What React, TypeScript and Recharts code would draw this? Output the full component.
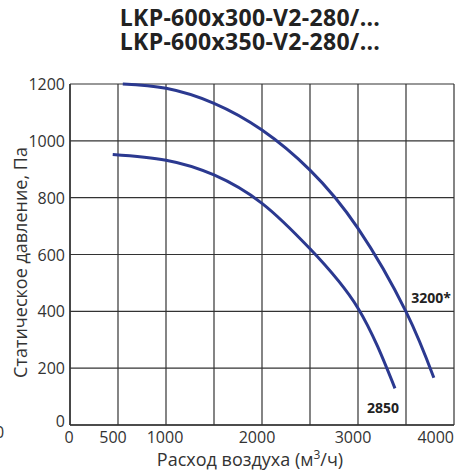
import React from "react";
import {
  LineChart,
  Line,
  XAxis,
  YAxis,
  CartesianGrid,
  ReferenceDot,
} from "recharts";

const titleLines = ["LKP-600x300-V2-280/...", "LKP-600x350-V2-280/..."];

// grid every 500, labels only on some
const xTicks = [0, 500, 1000, 1500, 2000, 2500, 3000, 3500, 4000];
const xLabeled = [0, 500, 1000, 2000, 3000, 4000];
const yTicks = [0, 200, 400, 600, 800, 1000, 1200];

const flow3200 = [550, 1000, 1500, 2000, 2500, 3000, 3500, 3790];
const press3200 = [1200, 1185, 1132, 1038, 897, 692, 399, 166];

const flow2850 = [445, 1000, 1500, 2000, 2500, 3000, 3385];
const press2850 = [952, 932, 880, 780, 620, 411, 129];

const curve3200 = flow3200.map((q, i) => ({ q, p: press3200[i] }));
const curve2850 = flow2850.map((q, i) => ({ q, p: press2850[i] }));

const ink = "#333";
const blue = "#2b3990";
const font = "'Open Sans', sans-serif";

const XTick = (props: any) => {
  const { x, y, payload } = props;
  const v = payload.value;
  if (!xLabeled.includes(v)) return null;
  const last = v === 4000;
  const shift = v === 0 || v === 1000 ? -1 : -5;
  return (
    <text
      x={last ? x : x + shift}
      y={y + 16}
      textAnchor={last ? "end" : "middle"}
      fill={ink}
      fontSize={16}
      fontFamily={font}
    >
      {v}
    </text>
  );
};

const YTick = (props: any) => {
  const { x, y, payload } = props;
  const v = payload.value;
  return (
    <text
      x={x - 3}
      y={v === 0 ? y - 4 : y}
      textAnchor="end"
      dominantBaseline="central"
      fill={ink}
      fontSize={16}
      fontFamily={font}
    >
      {v}
    </text>
  );
};

const YLabel = (props: any) => {
  const { viewBox } = props;
  const cx = 20;
  const cy = viewBox.y + viewBox.height / 2 + 8;
  return (
    <text
      x={cx}
      y={cy}
      transform={`rotate(-90 ${cx} ${cy})`}
      textAnchor="middle"
      dominantBaseline="central"
      fill={ink}
      fontSize={18}
      fontFamily={font}
    >
      Статическое давление, Па
    </text>
  );
};

const XLabel = (props: any) => {
  const { viewBox } = props;
  const cx = viewBox.x + viewBox.width / 2 - 12;
  return (
    <text x={cx} y={466} textAnchor="middle" fill={ink} fontSize={18} fontFamily={font}>
      Расход воздуха (м<tspan dy={-7} fontSize={12}>3</tspan>
      <tspan dy={7}>/ч)</tspan>
    </text>
  );
};

const tagLabel = (text: string) => (props: any) => {
  const { viewBox } = props;
  return (
    <text
      x={viewBox.x}
      y={viewBox.y}
      textAnchor="middle"
      dominantBaseline="central"
      fill="#222"
      fontSize={14}
      fontWeight="bold"
      fontFamily={font}
    >
      {text}
    </text>
  );
};

export default function App() {
  return (
    <div
      style={{
        position: "absolute",
        left: 0,
        top: 0,
        width: 460,
        height: 472,
        background: "#fff",
        overflow: "hidden",
        fontFamily: font,
      }}
    >
      <div
        style={{
          position: "absolute",
          left: 0,
          top: 5,
          width: 500,
          textAlign: "center",
          fontWeight: "bold",
          fontSize: 23,
          lineHeight: "24px",
          letterSpacing: 0.3,
          color: "#222",
        }}
      >
        {titleLines.map((t) => (
          <div key={t}>{t}</div>
        ))}
      </div>
      {/* stray clipped zero at the left edge, as in the source */}
      <span
        style={{
          position: "absolute",
          left: -5,
          top: 421,
          fontSize: 16,
          color: ink,
        }}
      >
        0
      </span>
      <LineChart
        width={460}
        height={472}
        margin={{ top: 84, right: 6, bottom: 0, left: 0 }}
        style={{ position: "absolute", left: 0, top: 0 }}
      >
        <CartesianGrid stroke={ink} strokeWidth={1.2} />
        <XAxis
          type="number"
          dataKey="q"
          domain={[0, 4000]}
          ticks={xTicks}
          interval={0}
          height={47}
          tick={<XTick />}
          tickLine={false}
          tickSize={0}
          axisLine={{ stroke: ink, strokeWidth: 1.5 }}
          label={<XLabel />}
          allowDataOverflow
        />
        <YAxis
          type="number"
          dataKey="p"
          domain={[0, 1200]}
          ticks={yTicks}
          interval={0}
          width={70}
          tickLine={false}
          tickSize={0}
          tick={<YTick />}
          axisLine={{ stroke: ink, strokeWidth: 1.5 }}
          label={<YLabel />}
        />
        <Line
          data={curve3200}
          dataKey="p"
          type="natural"
          stroke={blue}
          strokeWidth={3}
          dot={false}
          isAnimationActive={false}
        />
        <Line
          data={curve2850}
          dataKey="p"
          type="natural"
          stroke={blue}
          strokeWidth={3}
          dot={false}
          isAnimationActive={false}
        />
        <ReferenceDot x={3760} y={450} r={0} stroke="none" label={tagLabel("3200*")} />
        <ReferenceDot x={3260} y={60} r={0} stroke="none" label={tagLabel("2850")} />
      </LineChart>
    </div>
  );
}
